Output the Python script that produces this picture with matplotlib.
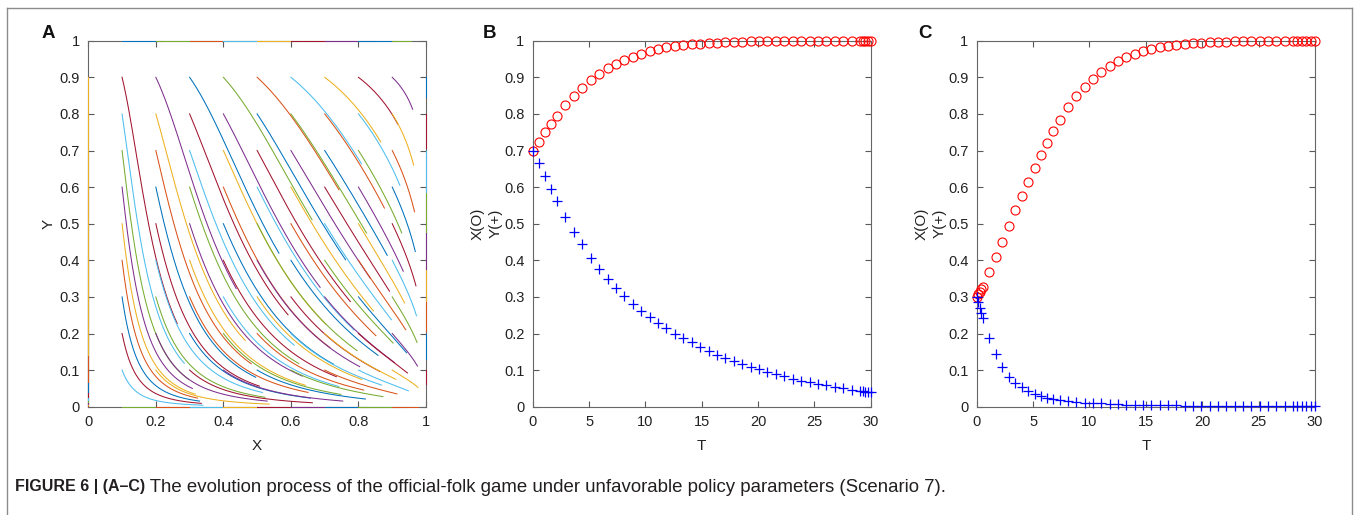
import numpy as np
import matplotlib.pyplot as plt
from matplotlib.lines import Line2D

plt.rcParams["font.family"] = ["Liberation Sans", "DejaVu Sans"]

# ---- panel A: phase trajectories from an 11 x 11 start grid ----
grid_start = [0.0, 0.1, 0.2, 0.3, 0.4, 0.5, 0.6, 0.7, 0.8, 0.9, 1.0]
t_end_a = 5.0
# dX/dt = X(1-X)(x_base + x_by_y*Y),  dY/dt = Y(1-Y)(y_base + y_by_x*X)
x_base, x_by_y = 0.31, -0.13
y_base, y_by_x = -0.80, 0.70

matlab_colors = ["#0072BD", "#D95319", "#EDB120", "#7E2F8E",
                 "#77AC30", "#4DBEEE", "#A2142F"]

# ---- panel B: start (0.7, 0.7) ----
t_b = [0, 0.54, 1.08, 1.62, 2.16, 2.91, 3.65, 4.40, 5.15, 5.90, 6.64, 7.39,
       8.14, 8.88, 9.63, 10.38, 11.12, 11.87, 12.62, 13.37, 14.11, 14.86,
       15.61, 16.35, 17.10, 17.85, 18.59, 19.34, 20.09, 20.84, 21.58, 22.33,
       23.08, 23.82, 24.57, 25.32, 26.06, 26.81, 27.56, 28.31, 29.05, 29.29,
       29.53, 29.76, 30.0]
x_b = [0.700, 0.724, 0.750, 0.772, 0.795, 0.824, 0.849, 0.872, 0.892, 0.909,
       0.925, 0.936, 0.947, 0.956, 0.964, 0.972, 0.977, 0.982, 0.985, 0.988,
       0.990, 0.992, 0.994, 0.995, 0.996, 0.997, 0.997, 0.998, 0.998, 0.998,
       0.999, 0.999, 0.999, 0.999, 0.999, 1.0, 1.0, 1.0, 1.0, 1.0, 1.0, 1.0,
       1.0, 1.0, 1.0]
y_b = [0.700, 0.665, 0.629, 0.596, 0.563, 0.519, 0.478, 0.444, 0.407, 0.377,
       0.350, 0.325, 0.303, 0.281, 0.262, 0.245, 0.229, 0.215, 0.200, 0.189,
       0.177, 0.164, 0.153, 0.142, 0.133, 0.125, 0.117, 0.109, 0.102, 0.095,
       0.089, 0.083, 0.077, 0.071, 0.067, 0.063, 0.058, 0.055, 0.050, 0.046,
       0.043, 0.042, 0.041, 0.041, 0.040]

# ---- panel C: start (0.3, 0.3) ----
t_c = [0, 0.135, 0.27, 0.405, 0.54, 1.09, 1.67, 2.25, 2.84, 3.43, 4.01, 4.58,
       5.14, 5.70, 6.26, 6.81, 7.36, 8.10, 8.84, 9.58, 10.32, 11.06, 11.79,
       12.53, 13.27, 14.01, 14.75, 15.49, 16.23, 16.97, 17.71, 18.45, 19.18,
       19.92, 20.66, 21.40, 22.14, 22.88, 23.62, 24.36, 25.10, 25.84, 26.57,
       27.31, 28.05, 28.44, 28.83, 29.22, 29.61, 30.0]
x_c = [0.300, 0.307, 0.314, 0.321, 0.328, 0.367, 0.408, 0.450, 0.495, 0.537,
       0.576, 0.615, 0.651, 0.687, 0.721, 0.753, 0.783, 0.818, 0.848, 0.873,
       0.895, 0.914, 0.930, 0.944, 0.955, 0.964, 0.971, 0.977, 0.982, 0.986,
       0.989, 0.991, 0.993, 0.995, 0.996, 0.997, 0.997, 0.998, 0.998, 0.999,
       0.999, 0.999, 0.999, 1.0, 1.0, 1.0, 1.0, 1.0, 1.0, 1.0]
y_c = [0.300, 0.286, 0.271, 0.257, 0.243, 0.187, 0.143, 0.108, 0.082, 0.066,
       0.053, 0.043, 0.035, 0.029, 0.025, 0.021, 0.018, 0.015, 0.013, 0.011,
       0.010, 0.009, 0.008, 0.007, 0.006, 0.006, 0.005, 0.005, 0.004, 0.004,
       0.004, 0.003, 0.003, 0.003, 0.003, 0.002, 0.002, 0.002, 0.002, 0.002,
       0.002, 0.001, 0.001, 0.001, 0.001, 0.001, 0.001, 0.001, 0.001, 0.001]

a_ticks_x = [0, 0.2, 0.4, 0.6, 0.8, 1]
a_ticklabels_x = ["0", "0.2", "0.4", "0.6", "0.8", "1"]
y_ticks = [0, 0.1, 0.2, 0.3, 0.4, 0.5, 0.6, 0.7, 0.8, 0.9, 1]
y_ticklabels = ["0", "0.1", "0.2", "0.3", "0.4", "0.5", "0.6", "0.7", "0.8", "0.9", "1"]
t_ticks = [0, 5, 10, 15, 20, 25, 30]
caption_bold = "FIGURE 6 | (A\u2013C)"
caption_rest = (" The evolution process of the official-folk game under "
                "unfavorable policy parameters (Scenario 7).")


def field(x, y):
    dx = x * (1 - x) * (x_base + x_by_y * y)
    dy = y * (1 - y) * (y_base + y_by_x * x)
    return dx, dy


def style(ax):
    for s in ax.spines.values():
        s.set_color("0.4")
        s.set_linewidth(0.8)
    ax.tick_params(direction="in", length=4, width=0.8, color="0.35",
                   top=True, right=True, labelsize=10.5, labelcolor="#222222", pad=6)


W, H = 1360, 515
fig = plt.figure(figsize=(W / 100, H / 100), dpi=100)

def box(left, right, top=40.7, bottom=406.7):
    return [left / W, 1 - bottom / H, (right - left) / W, (bottom - top) / H]

ax_a = fig.add_axes(box(88.3, 426.0))
ax_b = fig.add_axes(box(532.7, 870.7))
ax_c = fig.add_axes(box(976.7, 1315.0))

# trajectories (RK4), x outer loop, y inner loop -> MATLAB colour order
gx, gy = np.meshgrid(grid_start, grid_start, indexing="ij")
px, py = gx.ravel().copy(), gy.ravel().copy()
n_steps = 400
dt = t_end_a / n_steps
path_x, path_y = [px.copy()], [py.copy()]
for _ in range(n_steps):
    k1 = field(px, py)
    k2 = field(px + dt / 2 * k1[0], py + dt / 2 * k1[1])
    k3 = field(px + dt / 2 * k2[0], py + dt / 2 * k2[1])
    k4 = field(px + dt * k3[0], py + dt * k3[1])
    px = px + dt / 6 * (k1[0] + 2 * k2[0] + 2 * k3[0] + k4[0])
    py = py + dt / 6 * (k1[1] + 2 * k2[1] + 2 * k3[1] + k4[1])
    path_x.append(px.copy())
    path_y.append(py.copy())
path_x = np.array(path_x)
path_y = np.array(path_y)
for k in range(path_x.shape[1]):
    ax_a.plot(path_x[:, k], path_y[:, k], color=matlab_colors[k % 7],
              lw=0.75, clip_on=False, zorder=3)

ax_a.set_xlim(0, 1)
ax_a.set_ylim(0, 1)
ax_a.set_xticks(a_ticks_x)
ax_a.set_xticklabels(a_ticklabels_x)
ax_a.set_yticks(y_ticks)
ax_a.set_yticklabels(y_ticklabels)
ax_a.set_xlabel("X", fontsize=11, color="#222222", labelpad=7)
ax_a.set_ylabel("Y", fontsize=11, color="#222222", labelpad=3)
style(ax_a)

for ax, t, xv, yv in [(ax_b, t_b, x_b, y_b), (ax_c, t_c, x_c, y_c)]:
    ax.plot(t, xv, "o", color="red", mfc="none", ms=6.5, mew=0.8,
            clip_on=False, zorder=3)
    ax.plot(t, yv, "+", color="blue", ms=6.5, mew=0.9, clip_on=False, zorder=3)
    ax.set_xlim(0, 30)
    ax.set_ylim(0, 1)
    ax.set_xticks(t_ticks)
    ax.set_yticks(y_ticks)
    ax.set_yticklabels(y_ticklabels)
    ax.set_xlabel("T", fontsize=11, color="#222222", labelpad=7)
    ax.set_ylabel("X(O)\nY(+)", fontsize=11, color="#222222", labelpad=1,
                  linespacing=1.4)
    style(ax)

for lbl, xp in [("A", 48), ("B", 490), ("C", 925)]:
    fig.text(xp / W, 1 - 33 / H, lbl, fontsize=13.5, fontweight="bold",
             ha="center", va="center", color="#111111")

# outer frame (top, left, right)
frame_col = "0.55"
fig.add_artist(Line2D([7 / W, 1352 / W], [1 - 8 / H, 1 - 8 / H], color=frame_col, lw=1))
fig.add_artist(Line2D([7 / W, 7 / W], [0, 1 - 8 / H], color=frame_col, lw=1))
fig.add_artist(Line2D([1352 / W, 1352 / W], [0, 1 - 8 / H], color=frame_col, lw=1))

# caption: bold lead-in, regular text right after it
cap_y = 1 - 487 / H
t1 = fig.text(15 / W, cap_y, caption_bold, fontsize=11.5, fontweight="bold",
              va="center", ha="left", color="#231f20")
r = fig.canvas.get_renderer()
bb = t1.get_window_extent(renderer=r)
fig.text(bb.x1 / W, cap_y, caption_rest, fontsize=13.4, va="center", ha="left",
         color="#231f20")

fig.savefig("out.png", dpi=100)
